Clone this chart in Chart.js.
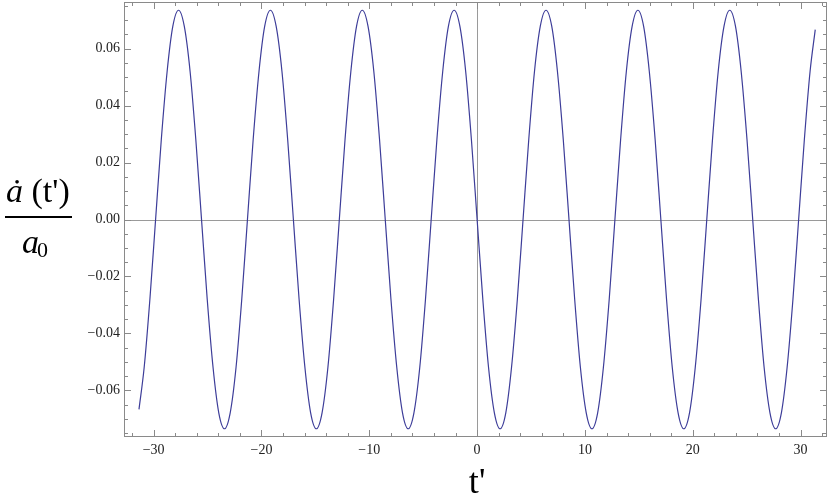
<!DOCTYPE html>
<html>
<head>
<meta charset="utf-8">
<script src="https://cdn.jsdelivr.net/npm/chart.js@4.4.1/dist/chart.umd.min.js"></script>
<style>
  html, body { margin: 0; padding: 0; background: #fff; }
  #wrap { width: 830px; height: 503px; }
</style>
</head>
<body>
<div id="wrap"><canvas id="grafico"></canvas></div>
<script>
// t' values
const tempos = [
  -31.36, -30.88, -30.35, -29.82, -29.29, -28.75, -28.22, -27.69, -27.16, -26.62,
  -26.09, -25.56, -25.03, -24.49, -23.96, -23.43, -22.90, -22.36, -21.83, -21.30,
  -20.77, -20.23, -19.70, -19.17, -18.64, -18.10, -17.57, -17.04, -16.51, -15.97,
  -15.44, -14.91, -14.38, -13.84, -13.31, -12.78, -12.25, -11.71, -11.18, -10.65,
  -10.12, -9.58, -9.05, -8.52, -7.99, -7.45, -6.92, -6.39, -5.86, -5.32,
  -4.79, -4.26, -3.73, -3.19, -2.66, -2.13, -1.60, -1.06, -0.53,
  0,
  0.53, 1.06, 1.60, 2.13, 2.66, 3.19, 3.73, 4.26, 4.79, 5.32,
  5.86, 6.39, 6.92, 7.45, 7.99, 8.52, 9.05, 9.58, 10.12, 10.65,
  11.18, 11.71, 12.25, 12.78, 13.31, 13.84, 14.38, 14.91, 15.44, 15.97,
  16.51, 17.04, 17.57, 18.10, 18.64, 19.17, 19.70, 20.23, 20.77, 21.30,
  21.83, 22.36, 22.90, 23.43, 23.96, 24.49, 25.03, 25.56, 26.09, 26.62,
  27.16, 27.69, 28.22, 28.75, 29.29, 29.82, 30.35, 30.88, 31.36
];

// a-dot(t') / a0
const valores = [
  -0.0667, -0.052, -0.0281, 0, 0.0281, 0.052, 0.0679, 0.0735, 0.0679, 0.052,
  0.0281, 0, -0.0281, -0.052, -0.0679, -0.0735, -0.0679, -0.052, -0.0281, 0,
  0.0281, 0.052, 0.0679, 0.0735, 0.0679, 0.052, 0.0281, 0, -0.0281, -0.052,
  -0.0679, -0.0735, -0.0679, -0.052, -0.0281, 0, 0.0281, 0.052, 0.0679, 0.0735,
  0.0679, 0.052, 0.0281, 0, -0.0281, -0.052, -0.0679, -0.0735, -0.0679, -0.052,
  -0.0281, 0, 0.0281, 0.052, 0.0679, 0.0735, 0.0679, 0.052, 0.0281,
  0,
  -0.0281, -0.052, -0.0679, -0.0735, -0.0679, -0.052, -0.0281, 0, 0.0281, 0.052,
  0.0679, 0.0735, 0.0679, 0.052, 0.0281, 0, -0.0281, -0.052, -0.0679, -0.0735,
  -0.0679, -0.052, -0.0281, 0, 0.0281, 0.052, 0.0679, 0.0735, 0.0679, 0.052,
  0.0281, 0, -0.0281, -0.052, -0.0679, -0.0735, -0.0679, -0.052, -0.0281, 0,
  0.0281, 0.052, 0.0679, 0.0735, 0.0679, 0.052, 0.0281, 0, -0.0281, -0.052,
  -0.0679, -0.0735, -0.0679, -0.052, -0.0281, 0, 0.0281, 0.052, 0.0667
];

const ticksX = [-30, -20, -10, 0, 10, 20, 30];
const ticksY = [-0.06, -0.04, -0.02, 0, 0.02, 0.04, 0.06];
const menoresX = [-32, -28, -26, -24, -22, -18, -16, -14, -12, -8, -6, -4, -2,
  2, 4, 6, 8, 12, 14, 16, 18, 22, 24, 26, 28, 32];
const menoresY = [-0.075, -0.07, -0.065, -0.055, -0.05, -0.045, -0.035, -0.03, -0.025,
  -0.015, -0.01, -0.005, 0.005, 0.01, 0.015, 0.025, 0.03, 0.035, 0.045, 0.05, 0.055,
  0.065, 0.07, 0.075];

const corLinha = '#3d3d99';
const corMoldura = '#8a8a8a';
const fonteSerif = "'Liberation Serif', 'DejaVu Serif', serif";

function menos(txt) {
  return txt.replace('-', '\u2212');
}

// frame, inward ticks, zero axes and the two big axis labels
const molduraPlugin = {
  id: 'moldura',
  beforeDatasetsDraw(chart) {
    const { ctx, chartArea: a, scales } = chart;
    ctx.save();
    ctx.strokeStyle = '#9a9a9a';
    ctx.lineWidth = 1;
    const x0 = Math.round(scales.x.getPixelForValue(0)) + 0.5;
    const y0 = Math.round(scales.y.getPixelForValue(0)) + 0.5;
    ctx.beginPath();
    ctx.moveTo(x0, a.top); ctx.lineTo(x0, a.bottom);
    ctx.moveTo(a.left, y0); ctx.lineTo(a.right, y0);
    ctx.stroke();
    ctx.restore();
  },
  afterDraw(chart) {
    const { ctx, chartArea: a, scales } = chart;
    ctx.save();
    ctx.strokeStyle = corMoldura;
    ctx.lineWidth = 1;
    ctx.strokeRect(a.left + 0.5, a.top + 0.5, a.right - a.left - 1, a.bottom - a.top - 1);

    ctx.beginPath();
    const marcaX = (v, len) => {
      const px = Math.round(scales.x.getPixelForValue(v)) + 0.5;
      ctx.moveTo(px, a.bottom); ctx.lineTo(px, a.bottom - len);
      ctx.moveTo(px, a.top); ctx.lineTo(px, a.top + len);
    };
    const marcaY = (v, len) => {
      const py = Math.round(scales.y.getPixelForValue(v)) + 0.5;
      ctx.moveTo(a.left, py); ctx.lineTo(a.left + len, py);
      ctx.moveTo(a.right, py); ctx.lineTo(a.right - len, py);
    };
    ticksX.forEach(v => marcaX(v, 7));
    menoresX.forEach(v => marcaX(v, 4));
    ticksY.forEach(v => marcaY(v, 7));
    menoresY.forEach(v => marcaY(v, 4));
    ctx.stroke();

    // y label: a-dot (t') over a0
    ctx.fillStyle = '#000';
    ctx.textBaseline = 'alphabetic';
    ctx.textAlign = 'left';
    ctx.font = 'italic 34px ' + fonteSerif;
    ctx.fillText('\u0227', 6, 202);
    const wa = ctx.measureText('\u0227').width;
    ctx.font = '34px ' + fonteSerif;
    ctx.fillText(" (t')", 6 + wa, 202);
    ctx.fillRect(5, 216, 67, 2);
    ctx.font = 'italic 34px ' + fonteSerif;
    ctx.fillText('a', 22, 253);
    const wa0 = ctx.measureText('a').width;
    ctx.font = '22px ' + fonteSerif;
    ctx.fillText('0', 22 + wa0 - 2, 257);

    // x label
    ctx.font = '36px ' + fonteSerif;
    ctx.textAlign = 'center';
    ctx.fillText("t'", scales.x.getPixelForValue(0), 493);
    ctx.restore();
  }
};

const ctx = document.getElementById('grafico').getContext('2d');
new Chart(ctx, {
  type: 'line',
  data: {
    datasets: [{
      data: tempos.map((t, i) => ({ x: t, y: valores[i] })),
      borderColor: corLinha,
      borderWidth: 1.2,
      pointRadius: 0,
      fill: false,
      cubicInterpolationMode: 'monotone'
    }]
  },
  options: {
    responsive: true,
    maintainAspectRatio: false,
    animation: false,
    devicePixelRatio: 1,
    layout: { padding: { top: 2, right: 3, left: 0, bottom: 0 } },
    plugins: { legend: { display: false }, tooltip: { enabled: false } },
    scales: {
      x: {
        type: 'linear',
        min: -32.75,
        max: 32.45,
        grid: { display: false, drawTicks: false },
        border: { display: false },
        afterBuildTicks: s => { s.ticks = ticksX.map(v => ({ value: v })); },
        afterFit: s => { s.height = 66; s.paddingLeft = 0; s.paddingRight = 0; },
        ticks: {
          padding: 5,
          color: '#222',
          font: { family: fonteSerif, size: 14 },
          maxRotation: 0,
          callback: v => menos(String(v))
        }
      },
      y: {
        type: 'linear',
        min: -0.0764,
        max: 0.0764,
        grid: { display: false, drawTicks: false },
        border: { display: false },
        afterBuildTicks: s => { s.ticks = ticksY.map(v => ({ value: v })); },
        afterFit: s => { s.width = 124; s.paddingTop = 0; s.paddingBottom = 0; },
        ticks: {
          padding: 4,
          color: '#222',
          font: { family: fonteSerif, size: 14 },
          callback: v => menos(Number(v).toFixed(2))
        }
      }
    }
  },
  plugins: [molduraPlugin]
});
</script>
</body>
</html>
